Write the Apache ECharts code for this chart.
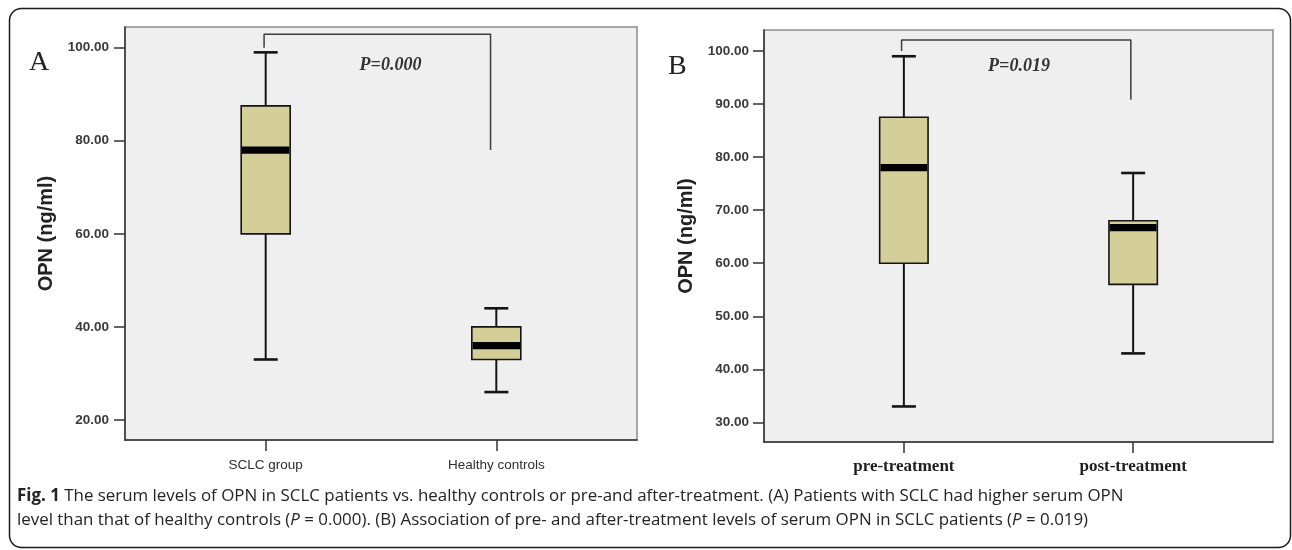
<!DOCTYPE html>
<html>
<head>
<meta charset="utf-8">
<script src="https://cdn.jsdelivr.net/npm/echarts@6/dist/echarts.min.js"></script>
<style>
  html, body { margin: 0; padding: 0; background: #fff; }
  #chart { width: 1292px; height: 550px; }
</style>
</head>
<body>
<div id="chart"></div>
<script>
// Panel A: SCLC patients vs healthy controls
const groupsA = ['SCLC group', 'Healthy controls'];
// each box: [min, Q1, median, Q3, max] in ng/ml
const boxesA = [
  [33, 60, 78, 87.5, 99],
  [26, 33, 36, 40, 44]
];
const ticksA = [20, 40, 60, 80, 100];
const pTextA = 'P=0.000';

// Panel B: before vs after treatment
const groupsB = ['pre-treatment', 'post-treatment'];
const boxesB = [
  [33, 60, 78, 87.5, 99],
  [43, 56, 66.7, 68, 77]
];
const ticksB = [30, 40, 50, 60, 70, 80, 90, 100];
const pTextB = 'P=0.019';

const yTitle = 'OPN (ng/ml)';
const captionLine1 = 'The serum levels of OPN in SCLC patients vs. healthy controls or pre-and after-treatment. (A) Patients with SCLC had higher serum OPN';
const captionLine2a = 'level than that of healthy controls (';
const captionLine2b = ' = 0.000). (B) Association of pre- and after-treatment levels of serum OPN in SCLC patients (';
const captionLine2c = ' = 0.019)';

const chart = echarts.init(document.getElementById('chart'), null, { renderer: 'canvas' });

const INK = '#141414';
const BOX_FILL = '#d4cf99';

// Box-and-whisker glyph drawn through the axis scales
function boxRenderer(halfBox, halfCap) {
  return function (params, api) {
    const x = api.value(0);
    const pt = i => api.coord([x, api.value(i)]);
    const lo = pt(1), q1 = pt(2), md = pt(3), q3 = pt(4), hi = pt(5);
    const cx = lo[0];
    const seg = (x1, y1, x2, y2, w) => ({
      type: 'line', shape: { x1, y1, x2, y2 },
      style: { stroke: INK, lineWidth: w }
    });
    return {
      type: 'group',
      children: [
        seg(cx, q3[1], cx, hi[1], 2),
        seg(cx, q1[1], cx, lo[1], 2),
        seg(cx - halfCap, hi[1], cx + halfCap, hi[1], 2.6),
        seg(cx - halfCap, lo[1], cx + halfCap, lo[1], 2.6),
        {
          type: 'rect',
          shape: { x: cx - halfBox, y: q3[1], width: halfBox * 2, height: q1[1] - q3[1] },
          style: { fill: BOX_FILL, stroke: INK, lineWidth: 1.6 }
        },
        {
          type: 'rect',
          shape: { x: cx - halfBox + 0.8, y: md[1] - 3.6, width: halfBox * 2 - 1.6, height: 7.2 },
          style: { fill: '#000' }
        }
      ]
    };
  };
}

function boxData(boxes) {
  return boxes.map((b, i) => [i + 1].concat(b));
}

// Significance bracket between the two groups
function bracket(xLeft, xRight, top, leftEnd, rightEnd) {
  return [[xLeft, leftEnd], [xLeft, top], [xRight, top], [xRight, rightEnd]];
}

const axisLineStyle = { color: '#333', width: 1.5 };

function xAxisFor(gridIndex, groups, labelStyle, margin) {
  return {
    gridIndex, type: 'value', min: 0.39, max: 2.61,
    splitLine: { show: false },
    axisLine: { show: true, onZero: false, lineStyle: axisLineStyle },
    axisTick: { show: true, customValues: [1, 2], length: 11, lineStyle: axisLineStyle },
    axisLabel: Object.assign({
      customValues: [1, 2], margin,
      formatter: v => groups[Math.round(v) - 1] || ''
    }, labelStyle)
  };
}

function yAxisFor(gridIndex, ticks, min, max, margin, nameGap) {
  return {
    gridIndex, type: 'value', min, max,
    splitLine: { show: false },
    axisLine: { show: true, onZero: false, lineStyle: axisLineStyle },
    axisTick: { show: true, customValues: ticks, length: 11, lineStyle: axisLineStyle },
    axisLabel: {
      customValues: ticks, margin,
      formatter: v => Number(v).toFixed(2),
      color: '#3a3a3a', fontFamily: 'Liberation Sans', fontWeight: 'bold', fontSize: 13.5
    },
    name: yTitle, nameLocation: 'middle', nameRotate: 90, nameGap,
    nameTextStyle: {
      color: '#222', fontFamily: 'Liberation Sans', fontWeight: 'bold', fontSize: 20
    }
  };
}

// Fit the caption to the frame width
const measureCtx = document.createElement('canvas').getContext('2d');
const captionFamily = '"Open Sans"';
const targetWidth = 1102;
measureCtx.font = '16px ' + captionFamily;
const rawW = measureCtx.measureText('Fig. 1 ' + captionLine1).width;
const capSize = Math.round(16 * targetWidth / rawW * 10) / 10;

const option = {
  animation: false,
  backgroundColor: '#ffffff',
  grid: [
    { left: 125, top: 27, width: 512, height: 413, show: true,
      backgroundColor: '#efefef', borderColor: '#8c8c8c', borderWidth: 1.5 },
    { left: 764, top: 30, width: 509, height: 412, show: true,
      backgroundColor: '#efefef', borderColor: '#8c8c8c', borderWidth: 1.5 }
  ],
  xAxis: [
    xAxisFor(0, groupsA, { color: '#2e2e2e', fontFamily: 'Liberation Sans', fontSize: 13.5 }, 18),
    xAxisFor(1, groupsB, { color: '#1e1e1e', fontFamily: 'Liberation Serif', fontWeight: 'bold', fontSize: 17 }, 16)
  ],
  yAxis: [
    yAxisFor(0, ticksA, 15.7, 104.45, 16, 69),
    yAxisFor(1, ticksB, 26.3, 103.95, 15, 68)
  ],
  series: [
    {
      type: 'line', xAxisIndex: 0, yAxisIndex: 0, silent: true,
      symbol: 'none', lineStyle: { color: '#3c3c3c', width: 1.5 },
      data: bracket(0.993, 1.975, 102.9, 100, 78), z: 1
    },
    {
      type: 'line', xAxisIndex: 1, yAxisIndex: 1, silent: true,
      symbol: 'none', lineStyle: { color: '#3c3c3c', width: 1.5 },
      data: bracket(0.99, 1.99, 102.07, 100, 90.8), z: 1
    },
    {
      type: 'custom', xAxisIndex: 0, yAxisIndex: 0, silent: true,
      renderItem: boxRenderer(24.5, 12),
      encode: { x: 0, y: [1, 2, 3, 4, 5] },
      data: boxData(boxesA), z: 2
    },
    {
      type: 'custom', xAxisIndex: 1, yAxisIndex: 1, silent: true,
      renderItem: boxRenderer(24.2, 12),
      encode: { x: 0, y: [1, 2, 3, 4, 5] },
      data: boxData(boxesB), z: 2
    }
  ],
  graphic: [
    {
      type: 'rect', silent: true, z: 100,
      shape: { x: 9.5, y: 8.5, width: 1281, height: 539, r: 12 },
      style: { fill: 'none', stroke: '#1a1a1a', lineWidth: 1.5 }
    },
    {
      type: 'text', z: 100, silent: true,
      style: { text: 'A', x: 29, y: 63, font: '28px "Liberation Serif"', fill: '#222',
               textAlign: 'left', textVerticalAlign: 'middle' }
    },
    {
      type: 'text', z: 100, silent: true,
      style: { text: 'B', x: 668, y: 67, font: '28px "Liberation Serif"', fill: '#222',
               textAlign: 'left', textVerticalAlign: 'middle' }
    },
    {
      type: 'text', z: 100, silent: true,
      style: { text: pTextA, x: 390.5, y: 65, font: 'italic bold 18px "Liberation Serif"', fill: '#333',
               textAlign: 'center', textVerticalAlign: 'middle' }
    },
    {
      type: 'text', z: 100, silent: true,
      style: { text: pTextB, x: 1019, y: 66, font: 'italic bold 18px "Liberation Serif"', fill: '#333',
               textAlign: 'center', textVerticalAlign: 'middle' }
    },
    {
      type: 'text', z: 100, silent: true,
      style: {
        x: 17, y: 496, textAlign: 'left', textVerticalAlign: 'middle',
        text: '{b|Fig. 1} ' + captionLine1,
        font: capSize + 'px ' + captionFamily, fill: '#232323',
        rich: { b: { fontWeight: 'bold', fontSize: capSize, fontFamily: 'Open Sans', fill: '#232323' } }
      }
    },
    {
      type: 'text', z: 100, silent: true,
      style: {
        x: 17, y: 520, textAlign: 'left', textVerticalAlign: 'middle',
        text: captionLine2a + '{i|P}' + captionLine2b + '{i|P}' + captionLine2c,
        font: capSize + 'px ' + captionFamily, fill: '#232323',
        rich: { i: { fontStyle: 'italic', fontSize: capSize, fontFamily: 'Open Sans', fill: '#232323' } }
      }
    }
  ]
};

chart.setOption(option);
</script>
</body>
</html>
